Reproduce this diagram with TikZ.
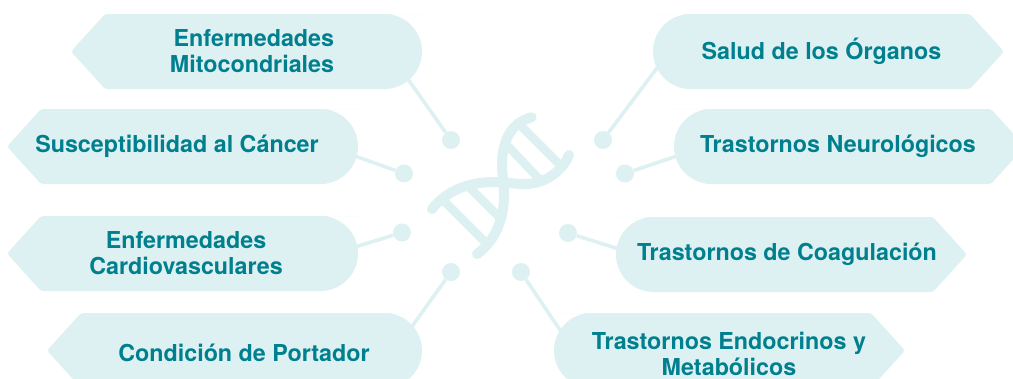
\documentclass[tikz,border=0pt]{standalone}
\usepackage{fontspec}
\setmainfont{TeX Gyre Heros}
\usepackage{tikz}
\usetikzlibrary{positioning}

\definecolor{palefill}{HTML}{DDF0F2}
\definecolor{tealtext}{HTML}{00808F}

\tikzset{
  label/.style={text=tealtext, font=\fontsize{23.3}{26}\selectfont\bfseries, inner sep=0pt},
  pin/.style={circle, fill=palefill, minimum size=18pt, inner sep=0pt},
  wire/.style={draw=palefill, line width=3.6pt},
  strand/.style={draw=palefill, line width=10pt, line cap=round},
  rung/.style={draw=palefill, line width=8.5pt}
}

% #1 left tip, #2 right end, #3 top
\newcommand{\tagleft}[3]{
  \fill[palefill, rounded corners=2pt] (#1+33,#3) -- (#1-1,#3+37.5) -- (#1+33,#3+75)
    -- (#2-37.5,#3+75) {[rounded corners=37.5pt] -- (#2,#3+75) -- (#2,#3) -- (#2-37.5,#3)} -- cycle;
}
% #1 left end, #2 right tip, #3 top
\newcommand{\tagright}[3]{
  \fill[palefill, rounded corners=2pt] (#2-33,#3) -- (#2+1,#3+37.5) -- (#2-33,#3+75)
    -- (#1+37.5,#3+75) {[rounded corners=37.5pt] -- (#1,#3+75) -- (#1,#3) -- (#1+37.5,#3)} -- cycle;
}

\begin{document}
\begin{tikzpicture}[x=1pt,y=-1pt]
  \useasboundingbox (0,0) rectangle (1013,378);
  \clip (0,0) rectangle (1013,378);

  % pins round the helix
  \node[pin] (pinA) at (451,140) {};
  \node[pin] (pinB) at (404,173.5) {};
  \node[pin] (pinC) at (402,232.5) {};
  \node[pin] (pinD) at (451,272) {};
  \node[pin] (pinE) at (603,140) {};
  \node[pin] (pinF) at (625,173.5) {};
  \node[pin] (pinG) at (568,233) {};
  \node[pin] (pinH) at (521,272) {};

  \coordinate (endA) at (405,75);
  \coordinate (endB) at (352,155);
  \coordinate (endC) at (352,248);
  \coordinate (endD) at (408,332);
  \coordinate (endE) at (660,64);
  \coordinate (endF) at (680,155);
  \coordinate (endG) at (622,250);
  \coordinate (endH) at (566,339);

  \draw[wire] (pinA) -- (endA);
  \draw[wire] (pinB) -- (endB);
  \draw[wire] (pinC) -- (endC);
  \draw[wire] (pinD) -- (endD);
  \draw[wire] (pinE) -- (endE);
  \draw[wire] (pinF) -- (endF);
  \draw[wire] (pinG) -- (endG);
  \draw[wire] (pinH) -- (endH);

  \tagleft{72}{422}{14}
  \tagleft{8}{358}{109}
  \tagleft{8}{358}{216}
  \tagleft{48}{422}{313}
  \tagright{653}{1003}{14}
  \tagright{674}{1024}{109}
  \tagright{616}{966}{217}
  \tagright{554}{904}{313}

  \node[label, align=right] (mito) at (252,51.3) {Enfermedades\\Mitocondriales};
  \node[label] (cancer) at (177,146.3) {Susceptibilidad al Cáncer};
  \node[label, align=center] (cardio) at (186,253) {Enfermedades\\Cardiovasculares};
  \node[label] (portador) at (244,353.3) {Condición de Portador};
  \node[label] (organos) at (821.5,51.3) {Salud de los Órganos};
  \node[label] (neuro) at (838,146.3) {Trastornos Neurológicos};
  \node[label] (coag) at (787,254.3) {Trastornos de Coagulación};
  \node[label, align=center] (endo) at (729,353.7) {Trastornos Endocrinos y\\Metabólicos};

  % helix
  \draw[strand] (531.7,117.3) .. controls (512,122) and (502,140) .. (502,165)
    .. controls (502,175) and (504,180) .. (504,192)
    .. controls (505,225) and (490,245) .. (477,254);
  \draw[strand] (432,209) .. controls (447,190) and (470,181.5) .. (497,182)
    .. controls (507,182) and (513,184) .. (523,184)
    .. controls (545,185) and (563,170) .. (569,155);
  \draw[rung] (520,125) -- (565,170);
  \draw[rung] (508,146) -- (540,180);
  \draw[rung] (466,184) -- (502,220);
  \draw[rung] (440,197) -- (488,245);
\end{tikzpicture}
\end{document}
